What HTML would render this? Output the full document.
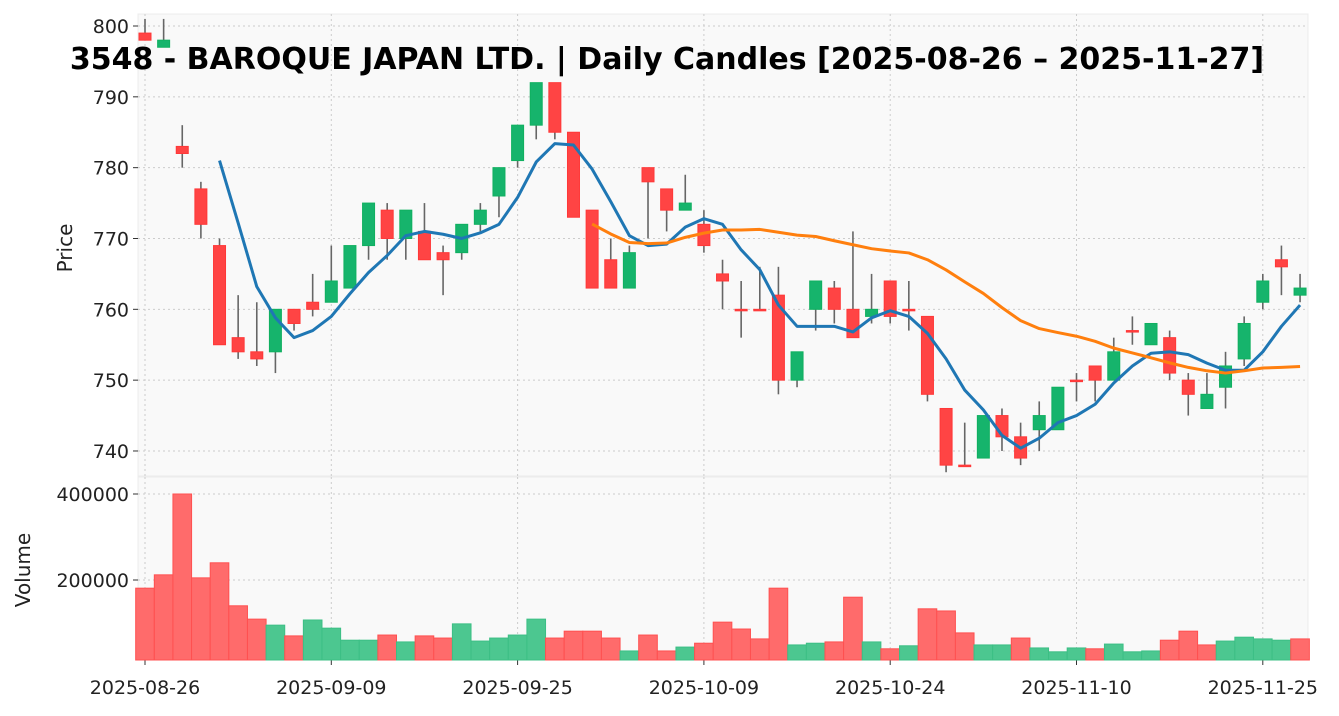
<!DOCTYPE html>
<html><head><meta charset="utf-8"><style>
body{margin:0;background:#fff;font-family:"Liberation Sans","DejaVu Sans",sans-serif}
svg text{font-family:"DejaVu Sans","Liberation Sans",sans-serif}
</style></head><body>
<svg id="c" width="1339" height="711" xmlns="http://www.w3.org/2000/svg"></svg>
<script>
const dates=["2025-08-26","2025-09-09","2025-09-25","2025-10-09","2025-10-24","2025-11-10","2025-11-25"];
const dateIdx=[0,10,20,30,40,50,60];
const opens=[799,797,783,777,769,756,754,754,760,761,761,763,769,774,770,771,768,768,772,776,781,786,792,785,774,767,763,780,777,774,772,765,760,760,762,750,760,763,760,759,764,760,759,746,738,739,745,742,743,743,750,752,750,757,755,756,750,746,749,753,761,767,762];
const highs=[801,801,786,778,770,762,761,760,760,765,769,769,775,775,774,775,769,772,775,780,786,792,792,785,774,770,769,780,777,779,774,767,764,766,766,754,764,764,771,765,764,764,759,746,744,745,746,744,747,749,751,752,756,759,758,757,751,751,754,759,765,769,765];
const lows=[798,797,780,770,755,753,752,751,757,759,761,763,767,767,767,767,762,767,771,773,780,784,784,773,763,763,763,770,771,774,768,760,756,760,748,749,757,758,756,758,758,757,747,737,738,739,740,738,740,743,747,747,750,755,755,750,745,746,746,752,760,762,761];
const closes=[798,798,782,772,755,754,753,760,758,760,764,769,775,770,774,767,767,772,774,780,786,792,785,773,763,763,768,778,774,775,769,764,760,760,750,754,764,760,756,760,759,760,748,738,738,745,742,739,745,749,750,750,754,757,758,751,748,748,752,758,764,766,763];
const volumes=[181000,212000,400000,205000,240000,140000,109000,95000,70000,107000,88000,60000,60000,72000,56000,70000,65000,98000,58000,65000,72000,109000,65000,81000,81000,65000,35000,72000,35000,44000,53000,102000,86000,63000,181000,49000,53000,56000,160000,56000,40000,47000,133000,128000,77000,49000,49000,65000,42000,33000,42000,40000,51000,33000,35000,60000,81000,49000,58000,67000,63000,60000,63000];
const volUp=[0,0,0,0,0,0,0,1,0,1,1,1,1,0,1,0,0,1,1,1,1,1,0,0,0,0,1,0,0,1,0,0,0,0,0,1,1,0,0,1,0,1,0,0,0,1,1,0,1,1,1,0,1,1,1,0,0,0,1,1,1,1,0];
const priceTicks=[740,750,760,770,780,790,800];
const volTicks=[200000,400000];
const maPeriods=[5,25];

const svg=document.getElementById('c');const NS='http://www.w3.org/2000/svg';
function el(t,a,p){const e=document.createElementNS(NS,t);for(const k in a)e.setAttribute(k,a[k]);(p||svg).appendChild(e);return e;}
const X0=145,DX=18.63;
const xs=i=>X0+i*DX;
const yP=p=>26+(800-p)*7.083;
const yV=v=>666-v*0.00043;
const L=138,R=1308;
let g=el('rect',{x:L,y:14,width:R-L,height:462,fill:'#f9f9f9',stroke:'#ececec'});

g=el('rect',{x:L,y:477,width:R-L,height:183,fill:'#f9f9f9',stroke:'#ececec'});

dateIdx.forEach((d,k)=>{const x=xs(d);
 el('line',{x1:x,x2:x,y1:14,y2:476,stroke:'#ccc','stroke-dasharray':'2,3'});
 el('line',{x1:x,x2:x,y1:477,y2:660,stroke:'#ccc','stroke-dasharray':'2,3'});
 el('line',{x1:x,x2:x,y1:660,y2:665,stroke:'#333'});
 const t=el('text',{x:x,y:694,'font-size':19,'text-anchor':'middle',fill:'#222'});t.textContent=dates[k];
 
});
priceTicks.forEach(p=>{const y=yP(p);
 el('line',{x1:L,x2:R,y1:y,y2:y,stroke:'#ccc','stroke-dasharray':'2,3'});
 el('line',{x1:L-5,x2:L,y1:y,y2:y,stroke:'#333'});
 const t=el('text',{x:L-9,y:y+7,'font-size':19,'text-anchor':'end',fill:'#222'});t.textContent=p;
 
});
volTicks.forEach(v=>{const y=yV(v);
 el('line',{x1:L,x2:R,y1:y,y2:y,stroke:'#ccc','stroke-dasharray':'2,3'});
 el('line',{x1:L-5,x2:L,y1:y,y2:y,stroke:'#333'});
 const t=el('text',{x:L-9,y:y+7,'font-size':19,'text-anchor':'end',fill:'#222'});t.textContent=v;
 
});
volumes.forEach((v,i)=>{const y=yV(v);
 const b=el('rect',{x:xs(i)-DX/2,y:y,width:DX,height:660-y,fill:volUp[i]?'#4cc790':'#ff6b6b',stroke:volUp[i]?'#3cbf85':'#ff5050','stroke-width':1});
 
});
opens.forEach((o,i)=>{const c=closes[i],up=c>o;const x=xs(i);
 el('line',{x1:x,x2:x,y1:yP(highs[i]),y2:yP(lows[i]),stroke:'#666','stroke-width':1.6});
 const top=yP(Math.max(o,c)),bot=yP(Math.min(o,c));
 const r=el('rect',{x:x-6,y:top,width:12,height:Math.max(bot-top,1.5),fill:up?'#16b46c':'#ff4444',stroke:up?'#10b060':'#ff3838','stroke-width':1});
 
});
function ma(n){const out=[];for(let i=n-1;i<closes.length;i++){let s=0;for(let j=i-n+1;j<=i;j++)s+=closes[j];out.push([i,s/n]);}return out;}
[[maPeriods[0],'#1f77b4','ma5-line'],[maPeriods[1],'#ff7f0e','ma25-line']].forEach(([n,col,name])=>{
 const pts=ma(n).map(([i,v])=>xs(i)+','+yP(v)).join(' ');
 const p=el('polyline',{points:pts,fill:'none',stroke:col,'stroke-width':3,'stroke-linejoin':'round'});
 
});
let t=el('text',{x:72,y:248,'font-size':20,'text-anchor':'middle',fill:'#222',transform:'rotate(-90 72 248)'});t.textContent='Price';

t=el('text',{x:30,y:570,'font-size':20,'text-anchor':'middle',fill:'#222',transform:'rotate(-90 30 570)'});t.textContent='Volume';

t=el('text',{x:667,y:69,'font-size':30,'font-weight':'bold','text-anchor':'middle',fill:'#000'});t.textContent='3548 - BAROQUE JAPAN LTD. | Daily Candles [2025-08-26 – 2025-11-27]';

</script>
</body></html>
